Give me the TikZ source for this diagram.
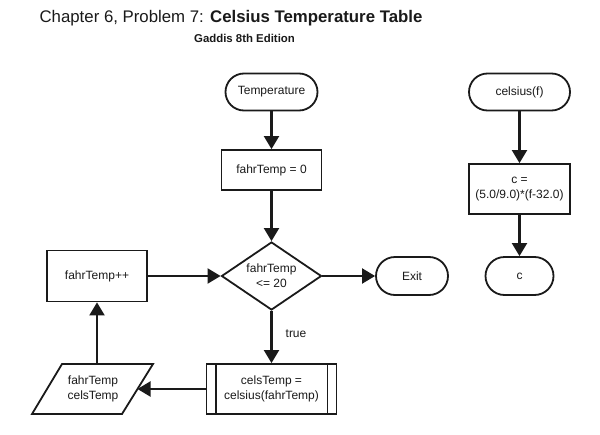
\documentclass[tikz,border=0pt]{standalone}
\usepackage{fontspec}
\setmainfont{Liberation Sans}
\usetikzlibrary{arrows.meta,shapes.geometric}
\definecolor{ink}{HTML}{1A1A1A}
\begin{document}
\begin{tikzpicture}[x=1pt,y=-1pt,
 base/.style={draw=ink, line width=1.8pt, font=\fontsize{12}{15}\selectfont, align=center, inner sep=0pt, text=ink},
 term/.style={base, rectangle, rounded corners=18.5pt, minimum height=37pt},
 proc/.style={base, rectangle, minimum width=100pt, minimum height=40pt},
 lbl/.style={font=\fontsize{12}{15.5}\selectfont, text=ink, inner sep=0pt, align=center},
 arr/.style={draw=ink, line width=2.1pt, -{Triangle[length=13pt,width=15pt]}},
 ln/.style={draw=ink, line width=1.8pt}
]
\useasboundingbox[fill=white] (0,0) rectangle (600,434);

% titles
\node[text=ink, font=\fontsize{16.8}{19}\selectfont, inner sep=0pt] (title) at (231,18) {Chapter 6, Problem 7: \textbf{Celsius Temperature Table}};
\node[text=ink, font=\fontsize{11.4}{13}\selectfont\bfseries, inner sep=0pt] (sub) at (244.5,38) {Gaddis 8th Edition};

% main flow
\node[term, minimum width=92pt] (temp) at (271.5,92) {Temperature};
\node[proc, minimum height=40pt] (init) at (271.5,170) {fahrTemp = 0};
\node[base, diamond, aspect=1.47, minimum width=100pt, minimum height=68pt] (dec) at (271.5,276) {fahrTemp\\<= 20};
\node[term, minimum width=72pt, minimum height=38pt, rounded corners=19pt] (exit) at (412,276) {Exit};
\node[proc, minimum height=51pt] (inc) at (97,276) {fahrTemp++};
\node[proc, minimum width=130pt, minimum height=50pt] (call) at (271.5,389) {celsTemp =\\celsius(fahrTemp)};
\draw[ln] ([xshift=10pt]call.north west) -- ([xshift=10pt]call.south west);
\draw[ln] ([xshift=-10pt]call.north east) -- ([xshift=-10pt]call.south east);

% output parallelogram
\draw[ln, line join=miter] (62,364) -- (153,364) -- (122,414) -- (32,414) -- cycle;
\node[lbl] (out) at (93,389) {fahrTemp\\celsTemp};
\coordinate (outr) at (137.5,389);
\coordinate (outt) at (97,364);

% connectors
\draw[arr] (temp.south) -- (init.north);
\draw[arr] (init.south) -- (dec.north);
\draw[arr] (dec.east) -- (exit.west);
\draw[arr] (inc.east) -- (dec.west);
\draw[arr] (dec.south) -- (call.north);
\node[lbl] (true) at (296,334) {true};
\draw[arr] (call.west) -- (outr);
\draw[arr] (outt) -- (inc.south);

% celsius function
\node[term, minimum width=101pt] (cf) at (519.5,92) {celsius(f)};
\node[proc, minimum width=101pt, minimum height=50pt] (calc) at (519.5,189) {c =\\(5.0/9.0)*(f-32.0)};
\node[term, minimum width=68pt, minimum height=38pt, rounded corners=19pt] (cret) at (519.5,276) {c};
\draw[arr] (cf.south) -- (calc.north);
\draw[arr] (calc.south) -- (cret.north);
\end{tikzpicture}
\end{document}
